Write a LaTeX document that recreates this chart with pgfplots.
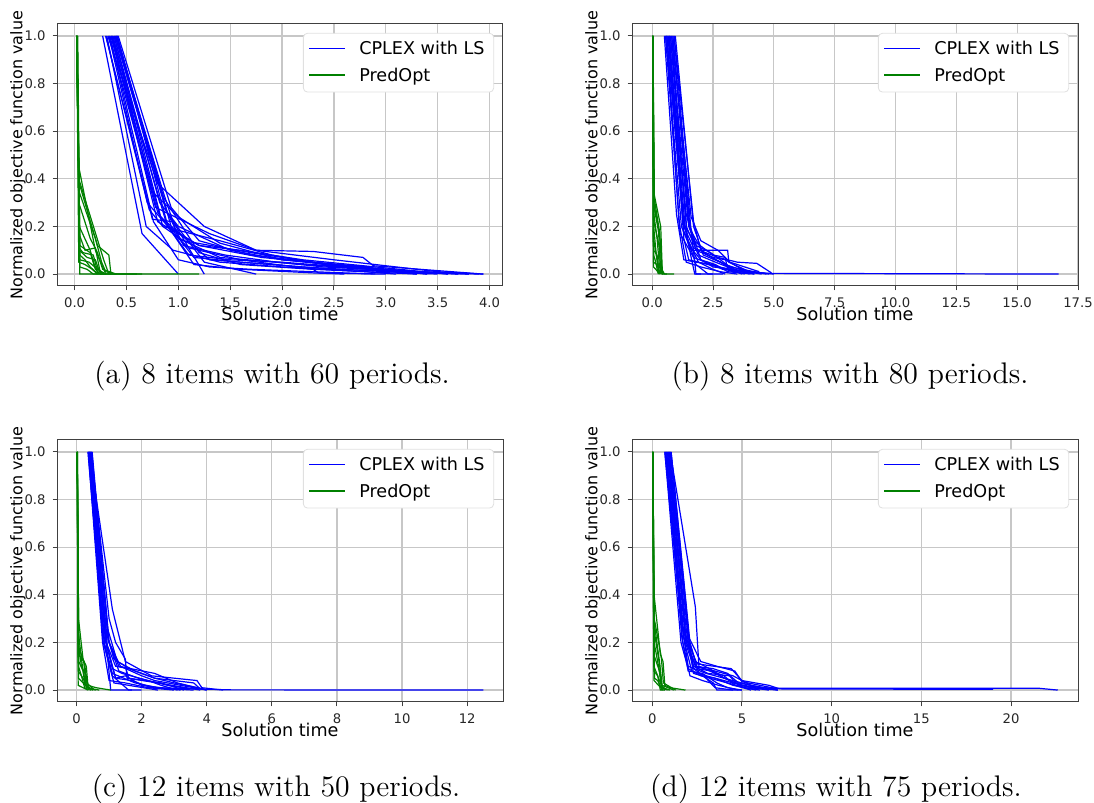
\documentclass[border=0pt]{standalone}
\usepackage{fontspec}
\newfontfamily\dejavu{DejaVu Sans}
\usepackage{pgfplots}
\pgfplotsset{compat=1.18}
\definecolor{cplexblue}{rgb}{0,0,1}
\definecolor{predgreen}{rgb}{0,0.5,0}
\pgfplotsset{
  panel/.style={
    scale only axis, width=223pt, height=131pt, anchor=south west,
    ymin=-0.05, ymax=1.05, ytick={0,0.2,0.4,0.6,0.8,1.0},
    grid=major, grid style={color=black!22, line width=0.6pt},
    axis line style={black!75, line width=0.5pt},
    tick align=outside, major tick length=2.2pt,
    tick style={black!75, line width=0.5pt},
    xtick pos=bottom, ytick pos=left,
    /pgf/number format/assume math mode=true,
    tick label style={font=\dejavu\fontsize{6.6}{7.5}\selectfont, text=black!85},
    yticklabel style={/pgf/number format/.cd, fixed, fixed zerofill, precision=1},
    xlabel={Solution time},
    ylabel={Normalized objective function value},
    xlabel style={font=\dejavu\fontsize{8.8}{10}\selectfont, at={(axis description cs:0.5,-0.108)}, anchor=center},
    ylabel style={font=\dejavu\fontsize{8}{9}\selectfont, at={(axis description cs:-0.0874,0.5)}, anchor=center, rotate=0},
    legend cell align=left,
    legend style={at={(axis description cs:0.98,0.966)}, anchor=north east,
      draw=black!12, rounded corners=2pt, fill=white,
      font=\dejavu\fontsize{8.8}{10}\selectfont, inner xsep=2.5pt, inner ysep=2pt,
      row sep=1pt},
  },
  lb/.style={color=cplexblue, line width=0.6pt,
    legend image code/.code={\draw[color=cplexblue, line width=0.9pt] (0pt,0.5pt) -- (18pt,0.5pt); \path[draw=none] (0pt,0pt) -- (23pt,0pt);}},
  lg/.style={color=predgreen, line width=0.6pt,
    legend image code/.code={\draw[color=predgreen, line width=0.9pt] (0pt,0.5pt) -- (18pt,0.5pt); \path[draw=none] (0pt,0pt) -- (23pt,0pt);}},
  cb/.style={color=cplexblue, line width=0.6pt, forget plot},
  cg/.style={color=predgreen, line width=0.6pt, forget plot},
}
\begin{document}
\begin{tikzpicture}
\path[use as bounding box] (0,0) rectangle (547pt,401.5pt);
% ---------------- (a)
\begin{axis}[panel, at={(28.5pt,258.5pt)}, xmin=-0.17, xmax=4.13,
  xtick={0,0.5,1,1.5,2,2.5,3,3.5,4},
  xticklabel style={/pgf/number format/.cd, fixed, fixed zerofill, precision=1}]
\addplot[lb] coordinates {(0.27,1)(0.65,0.17)(1.0,0)};
\addlegendentry{CPLEX with LS}
\addplot[cb] coordinates {(0.30,1)(0.75,0.23)(0.95,0.22)(1.25,0)};
\addplot[cb] coordinates {(0.32,1)(0.8,0.38)(1.25,0.2)(1.75,0.1)(2.3,0.095)(2.78,0.07)(2.88,0.035)(3.94,0)};
\addplot[cb] coordinates {(0.35,1)(0.78,0.28)(1.3,0.17)(1.75,0.1)(2.5,0.06)(3.5,0.01)(3.94,0)};
\addplot[cb] coordinates {(0.4,1)(0.85,0.35)(1.0,0.15)(1.4,0.07)(2.2,0.04)(3.2,0.01)(3.9,0)};
\addplot[cb] coordinates {(0.38,1)(0.82,0.3)(1.0,0.2)(1.5,0.1)(2.0,0.06)(2.85,0.03)(2.9,0.02)(3.8,0)};
\addplot[cb] coordinates {(0.33,1)(0.7,0.3)(0.9,0.2)(1.2,0.12)(1.8,0.07)(2.5,0.04)(3.3,0.01)(3.7,0)};
\addplot[cb] coordinates {(0.36,1)(0.88,0.22)(1.15,0.07)(1.6,0.05)(2.2,0.03)(3.0,0.01)(3.5,0)};
\addplot[cb] coordinates {(0.3,1)(0.72,0.27)(0.85,0.2)(1.4,0.14)(1.9,0.08)(2.4,0.04)(3.3,0)};
\addplot[cb] coordinates {(0.41,1)(0.95,0.17)(1.1,0.11)(1.6,0.06)(2.3,0.02)(2.35,0.005)(3.0,0)};
\addplot[cb] coordinates {(0.39,1)(0.9,0.25)(1.25,0.05)(1.75,0)};
\addplot[cb] coordinates {(0.35,1)(0.85,0.2)(1.05,0.14)(1.7,0.09)(2.3,0.05)(3.0,0.02)(3.6,0)};
\addplot[cb] coordinates {(0.37,1)(0.8,0.26)(1.1,0.08)(1.5,0.06)(2.0,0.05)(2.6,0.03)(3.2,0.005)};
\addplot[cb] coordinates {(0.42,1)(0.93,0.28)(1.2,0.14)(1.7,0.08)(2.1,0.06)(2.7,0.03)(3.4,0)};
\addplot[cb] coordinates {(0.4,1)(0.86,0.32)(1.2,0.09)(1.6,0.04)(2.3,0.02)(2.8,0.01)(3.1,0)};
\addplot[cb] coordinates {(0.34,1)(0.76,0.22)(1.0,0.06)(1.3,0.03)(1.7,0.02)(2.3,0.01)(2.9,0)};
\addplot[cb] coordinates {(0.38,1)(0.83,0.24)(1.3,0.06)(1.9,0.04)(2.5,0.02)(3.3,0.01)(3.8,0)};
\addplot[cb] coordinates {(0.31,1)(0.69,0.2)(0.95,0.1)(1.4,0.05)(2.0,0.03)(2.8,0.01)(3.3,0)};
\addplot[cb] coordinates {(0.36,1)(0.8,0.22)(1.2,0.12)(1.6,0.1)(2.2,0.06)(2.9,0.03)(3.6,0)};
\addplot[cb] coordinates {(0.41,1)(0.9,0.2)(1.15,0.04)(1.6,0.02)(2.3,0.005)(2.6,0)};
\addplot[cb] coordinates {(0.39,1)(0.88,0.27)(1.05,0.12)(1.45,0.08)(1.95,0.05)(2.4,0.03)(3.5,0.005)(3.7,0)};
\addplot[cb] coordinates {(0.33,1)(0.74,0.35)(1.0,0.24)(1.4,0.13)(2.0,0.06)(2.9,0.02)(3.4,0)};
\addplot[lg] coordinates {(0.02,1)(0.04,0.45)(0.2,0.1)(0.3,0)(1.2,0)};
\addlegendentry{PredOpt}
\addplot[cg] coordinates {(0.02,1)(0.045,0.38)(0.22,0.12)(0.33,0.08)(0.35,0)(0.65,0)};
\addplot[cg] coordinates {(0.025,1)(0.05,0.0)(0.6,0)};
\addplot[cg] coordinates {(0.02,1)(0.04,0.3)(0.15,0.15)(0.22,0.09)(0.27,0.02)(0.4,0)};
\addplot[cg] coordinates {(0.02,1)(0.05,0.16)(0.1,0.1)(0.2,0.11)(0.25,0)(0.35,0)};
\addplot[cg] coordinates {(0.025,1)(0.045,0.1)(0.12,0.07)(0.2,0.06)(0.24,0.01)(0.3,0)};
\addplot[cg] coordinates {(0.02,1)(0.05,0.12)(0.15,0.09)(0.2,0.02)(0.25,0)};
\addplot[cg] coordinates {(0.02,1)(0.04,0.05)(0.1,0.04)(0.17,0.02)(0.22,0)};
\addplot[cg] coordinates {(0.03,1)(0.05,0.08)(0.1,0.06)(0.15,0.03)(0.2,0.01)(0.26,0)};
\addplot[cg] coordinates {(0.02,1)(0.04,0.35)(0.2,0.15)(0.26,0.05)(0.3,0.01)(0.4,0)};
\addplot[cg] coordinates {(0.025,1)(0.05,0.03)(0.12,0.02)(0.18,0)(0.3,0)};
\addplot[cg] coordinates {(0.02,1)(0.045,0.2)(0.15,0.1)(0.19,0.04)(0.23,0)};
\addplot[cg] coordinates {(0.02,1)(0.045,0.11)(0.08,0.09)(0.18,0.08)(0.21,0.03)(0.28,0)};
\addplot[cg] coordinates {(0.02,1)(0.04,0.4)(0.28,0.06)(0.33,0.0)};
\addplot[cg] coordinates {(0.02,1)(0.05,0.06)(0.14,0.05)(0.22,0.02)(0.3,0)};
\end{axis}
% ---------------- (b)
\begin{axis}[panel, at={(316pt,258.5pt)}, xmin=-0.83, xmax=17.5,
  xtick={0,2.5,5,7.5,10,12.5,15,17.5},
  xticklabel style={/pgf/number format/.cd, fixed, fixed zerofill, precision=1}]
\addplot[lb] coordinates {(0.5,1)(1.0,0.25)(1.3,0.06)(1.8,0.05)(2.5,0.04)(3.3,0.01)(4.9,0.003)(16.7,0)};
\addlegendentry{CPLEX with LS}
\addplot[cb] coordinates {(0.55,1)(1.2,0.2)(1.6,0.1)(2.2,0.1)(3.1,0.1)(3.15,0.05)(4.0,0.01)(5.0,0)};
\addplot[cb] coordinates {(0.6,1)(1.3,0.2)(1.7,0.11)(2.7,0.07)(3.5,0.05)(4.3,0.045)(4.9,0.005)};
\addplot[cb] coordinates {(0.65,1)(1.4,0.25)(1.6,0.18)(2.1,0.09)(3.0,0.04)(3.9,0.01)(4.5,0)};
\addplot[cb] coordinates {(0.7,1)(1.35,0.2)(1.6,0.07)(1.75,0)(2.0,0)};
\addplot[cb] coordinates {(0.75,1)(1.5,0.2)(1.8,0.12)(2.4,0.09)(3.2,0.03)(4.2,0.01)(4.8,0)};
\addplot[cb] coordinates {(0.8,1)(1.6,0.24)(2.0,0.14)(2.7,0.1)(3.2,0.05)(4.4,0.01)};
\addplot[cb] coordinates {(0.85,1)(1.55,0.2)(1.8,0.1)(2.5,0.07)(3.0,0.06)(3.7,0.02)(4.2,0)};
\addplot[cb] coordinates {(0.9,1)(1.7,0.22)(2.0,0.1)(2.6,0.06)(3.4,0.02)(4.0,0)};
\addplot[cb] coordinates {(0.95,1)(1.7,0.2)(2.1,0.08)(2.8,0.05)(3.3,0.02)(3.9,0.005)};
\addplot[cb] coordinates {(0.6,1)(1.1,0.22)(1.4,0.05)(2.0,0.03)(2.8,0.01)(3.5,0)};
\addplot[cb] coordinates {(0.7,1)(1.3,0.15)(1.5,0.06)(2.3,0.04)(3.2,0.02)(3.8,0)};
\addplot[cb] coordinates {(0.65,1)(1.3,0.18)(1.9,0.05)(2.5,0.02)(3.0,0)};
\addplot[cb] coordinates {(0.8,1)(1.45,0.15)(1.8,0.04)(2.3,0.0)(2.9,0)};
\addplot[cb] coordinates {(0.75,1)(1.4,0.2)(1.9,0.08)(2.6,0.05)(3.1,0.03)(3.6,0.005)};
\addplot[cb] coordinates {(0.55,1)(1.15,0.17)(1.7,0.07)(2.2,0.05)(2.9,0.02)(4.0,0.01)(4.7,0)};
\addplot[cb] coordinates {(0.9,1)(1.6,0.18)(1.75,0.05)(1.8,0.0)(2.5,0)};
\addplot[cb] coordinates {(0.85,1)(1.5,0.22)(2.0,0.06)(2.6,0.04)(3.1,0.01)(4.2,0.0)};
\addplot[cb] coordinates {(0.7,1)(1.3,0.21)(1.7,0.14)(2.5,0.08)(3.0,0.07)(3.1,0.02)(3.7,0)};
\addplot[cb] coordinates {(0.6,1)(1.25,0.24)(1.5,0.12)(2.0,0.06)(2.5,0.03)(3.3,0.02)(4.5,0.005)};
\addplot[lg] coordinates {(0.02,1)(0.08,0.32)(0.3,0.18)(0.4,0.02)(0.5,0)(0.9,0)};
\addlegendentry{PredOpt}
\addplot[cg] coordinates {(0.02,1)(0.06,0.3)(0.25,0.2)(0.35,0.01)(0.45,0)};
\addplot[cg] coordinates {(0.03,1)(0.07,0.25)(0.2,0.15)(0.3,0.03)(0.4,0)};
\addplot[cg] coordinates {(0.02,1)(0.05,0.03)(0.15,0.02)(0.3,0)};
\addplot[cg] coordinates {(0.02,1)(0.06,0.2)(0.15,0.1)(0.25,0.02)(0.35,0)};
\addplot[cg] coordinates {(0.02,1)(0.06,0.1)(0.2,0.08)(0.3,0.0)};
\addplot[cg] coordinates {(0.03,1)(0.08,0.28)(0.33,0.14)(0.4,0.0)(0.6,0)};
\addplot[cg] coordinates {(0.02,1)(0.05,0.05)(0.2,0.04)(0.3,0.01)(0.45,0)};
\addplot[cg] coordinates {(0.02,1)(0.07,0.22)(0.28,0.12)(0.35,0.02)(0.5,0)};
\addplot[cg] coordinates {(0.02,1)(0.05,0.15)(0.2,0.06)(0.28,0)};
\addplot[cg] coordinates {(0.03,1)(0.09,0.33)(0.35,0.2)(0.42,0.0)};
\addplot[cg] coordinates {(0.02,1)(0.06,0.08)(0.12,0.06)(0.25,0)};
\end{axis}
% ---------------- (c)
\begin{axis}[panel, at={(28.5pt,50.5pt)}, xmin=-0.6, xmax=13.1,
  xtick={0,2,4,6,8,10,12}]
\addplot[lb] coordinates {(0.35,1)(0.85,0.2)(1.1,0.07)(1.8,0.03)(2.5,0.01)(4.7,0.001)(12.5,0)};
\addlegendentry{CPLEX with LS}
\addplot[cb] coordinates {(0.4,1)(1.1,0.34)(1.5,0.12)(2.3,0.06)(3.7,0.04)(3.85,0.01)(4.5,0)};
\addplot[cb] coordinates {(0.45,1)(0.95,0.26)(1.25,0.12)(1.8,0.08)(2.4,0.05)(3.6,0.03)(3.8,0.005)};
\addplot[cb] coordinates {(0.38,1)(0.85,0.22)(1.2,0.1)(1.6,0.09)(2.4,0.05)(3.0,0.03)(3.9,0.005)};
\addplot[cb] coordinates {(0.42,1)(0.9,0.22)(1.05,0.0)(1.7,0)};
\addplot[cb] coordinates {(0.48,1)(1.0,0.2)(1.3,0.08)(1.9,0.05)(2.8,0.02)(3.5,0.005)};
\addplot[cb] coordinates {(0.36,1)(0.8,0.2)(1.0,0.04)(1.5,0.03)(2.2,0.01)(3.0,0)};
\addplot[cb] coordinates {(0.44,1)(0.95,0.18)(1.2,0.05)(1.5,0.06)(2.0,0.02)(3.2,0)};
\addplot[cb] coordinates {(0.4,1)(0.88,0.22)(1.1,0.09)(1.4,0.07)(2.2,0.04)(2.6,0.02)(3.1,0.0)};
\addplot[cb] coordinates {(0.46,1)(1.0,0.2)(1.35,0.1)(2.0,0.06)(2.4,0.04)(3.2,0.02)(4.0,0)};
\addplot[cb] coordinates {(0.37,1)(0.82,0.2)(1.15,0.03)(1.6,0.02)(2.5,0)};
\addplot[cb] coordinates {(0.43,1)(0.92,0.24)(1.15,0.13)(1.5,0.1)(1.6,0.05)(2.6,0.03)(3.3,0)};
\addplot[cb] coordinates {(0.39,1)(0.86,0.19)(1.1,0.06)(1.6,0.0)(2.0,0)};
\addplot[cb] coordinates {(0.47,1)(0.97,0.21)(1.3,0.1)(2.4,0.07)(3.1,0.03)(4.0,0)};
\addplot[cb] coordinates {(0.41,1)(0.9,0.2)(1.2,0.05)(1.7,0.04)(2.3,0.01)(3.6,0)};
\addplot[cb] coordinates {(0.44,1)(1.0,0.3)(1.2,0.2)(1.5,0.13)(1.55,0.05)(2.5,0.03)(3.8,0)};
\addplot[lg] coordinates {(0.02,1)(0.06,0.3)(0.2,0.13)(0.3,0.1)(0.35,0.02)(0.6,0.01)(1.05,0)};
\addlegendentry{PredOpt}
\addplot[cg] coordinates {(0.02,1)(0.05,0.2)(0.15,0.1)(0.3,0.06)(0.33,0.01)(0.6,0)};
\addplot[cg] coordinates {(0.03,1)(0.07,0.12)(0.2,0.08)(0.3,0.02)(0.5,0)};
\addplot[cg] coordinates {(0.02,1)(0.06,0.05)(0.2,0.03)(0.35,0.01)(0.5,0)};
\addplot[cg] coordinates {(0.02,1)(0.05,0.25)(0.18,0.1)(0.26,0.02)(0.45,0)};
\addplot[cg] coordinates {(0.02,1)(0.06,0.1)(0.15,0.06)(0.25,0.01)(0.4,0)};
\addplot[cg] coordinates {(0.03,1)(0.05,0.02)(0.2,0.01)(0.35,0)};
\addplot[cg] coordinates {(0.02,1)(0.06,0.15)(0.22,0.12)(0.3,0.01)(0.7,0)};
\addplot[cg] coordinates {(0.02,1)(0.05,0.08)(0.2,0.05)(0.3,0.02)(0.45,0)};
\addplot[cg] coordinates {(0.02,1)(0.07,0.18)(0.25,0.11)(0.32,0.03)(0.55,0)};
\end{axis}
% ---------------- (d)
\begin{axis}[panel, at={(316pt,50.5pt)}, xmin=-1.13, xmax=23.73,
  xtick={0,5,10,15,20}]
\addplot[lb] coordinates {(0.7,1)(1.6,0.3)(2.0,0.1)(3.0,0.07)(4.5,0.04)(6.0,0.01)(7.0,0.008)(21.5,0.008)(22.6,0)};
\addlegendentry{CPLEX with LS}
\addplot[cb] coordinates {(0.75,1)(1.7,0.25)(2.5,0.11)(4.4,0.09)(5.0,0.04)(6.5,0.02)(7.1,0.005)(19.0,0.003)};
\addplot[cb] coordinates {(0.8,1)(1.75,0.22)(2.3,0.1)(3.5,0.08)(4.5,0.06)(5.5,0.02)(7.0,0)};
\addplot[cb] coordinates {(0.85,1)(1.8,0.2)(2.2,0.08)(3.0,0.06)(4.0,0.04)(5.5,0.01)(6.5,0)};
\addplot[cb] coordinates {(0.9,1)(1.9,0.25)(2.3,0.07)(3.2,0.05)(4.2,0.03)(5.2,0.01)(6.0,0)};
\addplot[cb] coordinates {(0.95,1)(2.0,0.22)(2.4,0.12)(3.2,0.09)(4.0,0.05)(5.0,0.02)(6.8,0.005)};
\addplot[cb] coordinates {(1.0,1)(2.4,0.35)(2.6,0.1)(3.5,0.07)(4.6,0.03)(5.5,0.01)(7.0,0)};
\addplot[cb] coordinates {(1.05,1)(2.1,0.2)(2.6,0.07)(3.4,0.03)(3.6,0.0)(5.0,0)};
\addplot[cb] coordinates {(0.7,1)(1.6,0.2)(2.0,0.09)(2.7,0.06)(3.5,0.05)(4.5,0.02)(5.8,0)};
\addplot[cb] coordinates {(0.8,1)(1.65,0.22)(2.1,0.06)(2.8,0.04)(3.7,0.02)(4.8,0.0)};
\addplot[cb] coordinates {(0.85,1)(1.85,0.24)(2.3,0.1)(3.1,0.07)(4.3,0.06)(4.8,0.02)(6.2,0.005)};
\addplot[cb] coordinates {(0.95,1)(1.9,0.2)(2.5,0.09)(3.3,0.08)(4.0,0.06)(4.6,0.02)(5.5,0)};
\addplot[cb] coordinates {(1.0,1)(2.0,0.23)(2.3,0.09)(3.0,0.05)(3.5,0.01)(4.5,0)};
\addplot[cb] coordinates {(0.75,1)(1.7,0.2)(2.0,0.08)(2.8,0.07)(3.6,0.03)(4.2,0.01)(5.0,0)};
\addplot[cb] coordinates {(0.9,1)(1.85,0.21)(2.4,0.1)(3.4,0.09)(4.2,0.07)(4.8,0.03)(6.5,0.005)};
\addplot[cb] coordinates {(1.05,1)(2.05,0.22)(2.7,0.12)(3.6,0.1)(4.6,0.08)(5.0,0.035)(7.0,0.005)};
\addplot[lg] coordinates {(0.03,1)(0.1,0.4)(0.45,0.15)(0.6,0.12)(0.7,0.02)(1.0,0.01)(1.85,0)};
\addlegendentry{PredOpt}
\addplot[cg] coordinates {(0.03,1)(0.08,0.3)(0.4,0.12)(0.55,0.02)(1.2,0)};
\addplot[cg] coordinates {(0.04,1)(0.12,0.05)(0.3,0.04)(0.5,0.01)(0.9,0)};
\addplot[cg] coordinates {(0.03,1)(0.1,0.2)(0.35,0.1)(0.5,0.02)(0.8,0)};
\addplot[cg] coordinates {(0.03,1)(0.09,0.08)(0.3,0.06)(0.45,0)(0.7,0)};
\addplot[cg] coordinates {(0.03,1)(0.08,0.15)(0.4,0.08)(0.55,0.01)(1.0,0)};
\addplot[cg] coordinates {(0.04,1)(0.1,0.04)(0.35,0.02)(0.6,0)};
\addplot[cg] coordinates {(0.03,1)(0.11,0.3)(0.5,0.14)(0.62,0.03)(1.3,0)};
\addplot[cg] coordinates {(0.03,1)(0.09,0.1)(0.25,0.07)(0.45,0.03)(0.7,0)};
\addplot[cg] coordinates {(0.03,1)(0.1,0.25)(0.42,0.1)(0.52,0.0)};
\end{axis}
% ---------------- captions
\node[font=\fontsize{14.9}{17}\selectfont] at (136pt,213.5pt) {(a) 8 items with 60 periods.};
\node[font=\fontsize{14.9}{17}\selectfont] at (425pt,213.5pt) {(b) 8 items with 80 periods.};
\node[font=\fontsize{14.9}{17}\selectfont] at (138pt,7pt) {(c) 12 items with 50 periods.};
\node[font=\fontsize{14.9}{17}\selectfont] at (418pt,7pt) {(d) 12 items with 75 periods.};
\end{tikzpicture}
\end{document}
